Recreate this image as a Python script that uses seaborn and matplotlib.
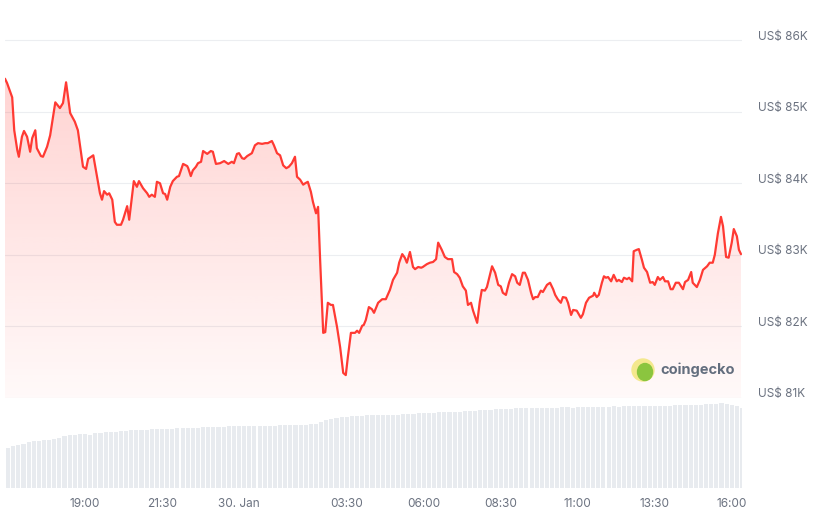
import numpy as np
import pandas as pd
import matplotlib
matplotlib.use("Agg")
import matplotlib.pyplot as plt
from matplotlib.colors import to_rgb
from matplotlib.patches import Ellipse
from matplotlib.transforms import ScaledTranslation
import seaborn as sns

# price samples, time in minutes after 29 Jan 16:00
minutes = [
    24, 28, 38, 42, 48, 51, 57, 61, 67, 73,
    77, 83, 86, 94, 98, 106, 112, 122, 131, 137,
    143, 151, 160, 166, 176, 182, 186, 196, 209, 213,
    217, 223, 227, 233, 238, 242, 250, 254, 262, 266,
    275, 281, 285, 293, 301, 305, 310, 316, 320, 326,
    332, 336, 340, 346, 351, 359, 363, 371, 379, 381,
    386, 390, 396, 400, 406, 410, 418, 425, 429, 435,
    443, 451, 459, 466, 470, 476, 480, 486, 490, 496,
    505, 511, 517, 525, 531, 536, 544, 548, 554, 560,
    566, 572, 577, 583, 589, 593, 599, 605, 609, 614,
    620, 624, 630, 634, 638, 644, 648, 653, 659, 663,
    671, 677, 683, 688, 692, 698, 706, 710, 714, 720,
    723, 727, 733, 739, 743, 751, 759, 766, 774, 780,
    788, 792, 798, 803, 807, 813, 819, 823, 829, 835,
    838, 846, 852, 858, 864, 868, 875, 881, 887, 895,
    899, 905, 910, 916, 922, 926, 932, 936, 944, 949,
    953, 959, 963, 973, 979, 985, 990, 994, 1000, 1006,
    1012, 1018, 1022, 1027, 1033, 1037, 1043, 1049, 1053, 1057,
    1062, 1068, 1072, 1080, 1086, 1092, 1096, 1101, 1107, 1111,
    1117, 1121, 1127, 1131, 1138, 1146, 1150, 1156, 1162, 1170,
    1172, 1177, 1181, 1187, 1191, 1195, 1199, 1205, 1210, 1216,
    1220, 1226, 1230, 1236, 1240, 1246, 1249, 1255, 1259, 1265,
    1269, 1275, 1281, 1286, 1290, 1296, 1300, 1306, 1310, 1316,
    1321, 1325, 1331, 1337, 1345, 1349, 1355, 1361, 1364, 1372,
    1378, 1384, 1392, 1397, 1403, 1407, 1413, 1419, 1423, 1429,
    1434, 1440, 1444, 1450, 1454, 1458,
]
price_usd = [
    85460, 85400, 85200, 84740, 84460, 84370, 84650, 84730, 84650, 84440,
    84630, 84740, 84490, 84380, 84370, 84510, 84670, 85130, 85050, 85120,
    85410, 84980, 84860, 84740, 84230, 84200, 84340, 84390, 83860, 83770,
    83890, 83840, 83860, 83770, 83460, 83420, 83420, 83490, 83680, 83490,
    84030, 83950, 84030, 83930, 83860, 83810, 83840, 83810, 84020, 84000,
    83860, 83850, 83770, 83950, 84030, 84090, 84100, 84270, 84240, 84210,
    84100, 84180, 84230, 84280, 84300, 84450, 84410, 84450, 84440, 84270,
    84280, 84310, 84270, 84300, 84280, 84410, 84420, 84350, 84340, 84380,
    84420, 84530, 84560, 84550, 84560, 84560, 84590, 84530, 84420, 84390,
    84250, 84210, 84230, 84280, 84370, 84090, 84050, 83980, 84000, 84020,
    83880, 83740, 83580, 83670, 82930, 81910, 81920, 82330, 82300, 82300,
    81990, 81710, 81350, 81320, 81570, 81910, 81910, 81940, 81910, 82010,
    82020, 82090, 82270, 82240, 82190, 82330, 82380, 82380, 82510, 82650,
    82750, 82890, 83010, 82960, 82890, 83040, 82830, 82800, 82830, 82820,
    82830, 82870, 82890, 82900, 82940, 83170, 83070, 82970, 82940, 82940,
    82760, 82730, 82680, 82560, 82500, 82300, 82330, 82220, 82050, 82340,
    82510, 82500, 82550, 82840, 82750, 82580, 82560, 82470, 82440, 82610,
    82730, 82700, 82610, 82580, 82750, 82750, 82650, 82470, 82380, 82410,
    82410, 82500, 82480, 82580, 82610, 82520, 82440, 82380, 82330, 82410,
    82400, 82330, 82160, 82230, 82220, 82120, 82170, 82330, 82400, 82430,
    82470, 82410, 82440, 82610, 82700, 82680, 82690, 82630, 82720, 82630,
    82650, 82620, 82680, 82660, 82680, 82630, 83050, 83070, 83080, 82930,
    82820, 82760, 82610, 82620, 82580, 82690, 82650, 82690, 82630, 82630,
    82520, 82520, 82610, 82610, 82520, 82620, 82650, 82760, 82610, 82550,
    82650, 82790, 82840, 82890, 82890, 83000, 83300, 83530, 83400, 82970,
    82960, 83170, 83360, 83260, 83070, 83010,
]

# volume bars every 10 minutes (billion USD)
vol_minutes = np.arange(20, 1461, 10)
volume_bn = [
    19.5, 20.2, 21.0, 21.7, 22.2, 23.0, 23.5, 23.7, 24.0, 24.2,
    24.5, 25.2, 26.0, 26.5, 26.5, 26.8, 27.0, 26.5, 27.5, 27.7,
    28.0, 28.0, 28.2, 28.5, 28.7, 29.0, 29.0, 29.2, 29.2, 29.5,
    29.5, 29.5, 29.7, 29.7, 30.0, 30.0, 30.0, 30.2, 30.2, 30.5,
    30.5, 30.5, 30.7, 30.7, 31.0, 31.0, 31.0, 31.0, 31.0, 31.0,
    31.0, 31.2, 31.2, 31.2, 31.3, 31.5, 31.5, 31.5, 31.7, 31.7,
    32.0, 32.0, 33.0, 34.0, 34.5, 35.0, 35.5, 35.7, 36.0, 36.0,
    36.2, 36.5, 36.5, 36.5, 36.5, 36.5, 36.5, 36.7, 37.0, 37.0,
    37.2, 37.5, 37.5, 37.7, 37.7, 38.0, 38.0, 38.0, 38.2, 38.2,
    38.5, 38.5, 38.5, 39.0, 39.2, 39.2, 39.5, 39.5, 39.7, 39.7,
    40.0, 40.0, 40.0, 40.0, 40.0, 40.2, 40.0, 40.2, 40.2, 40.5,
    40.5, 40.2, 40.5, 40.5, 40.5, 40.7, 40.7, 40.7, 40.7, 41.0,
    40.7, 41.0, 41.0, 41.0, 41.0, 41.0, 41.2, 41.0, 41.2, 41.2,
    41.2, 41.5, 41.5, 41.5, 41.5, 41.7, 41.7, 42.0, 42.0, 42.2,
    42.5, 42.2, 41.5, 41.0, 40.0,
]

tick_minutes = [180, 330, 480, 690, 840, 990, 1140, 1290, 1440]
tick_labels = ["19:00", "21:30", "30. Jan", "03:30", "06:00", "08:30", "11:00", "13:30", "16:00"]
price_ticks = [81000, 82000, 83000, 84000, 85000, 86000]
price_labels = ["US$ 81K", "US$ 82K", "US$ 83K", "US$ 84K", "US$ 85K", "US$ 86K"]

sns.set_theme(style="white")
plt.rcParams["font.family"] = ["Inter", "DejaVu Sans"]

RED = "#ff3a33"
TEXT = "#6b7280"
XMIN, XMAX = 24, 1460
YMIN, YMAX = 81000, 86420

fig = plt.figure(figsize=(8.21, 5.19), dpi=100, facecolor="white")
ax = fig.add_axes([5 / 821, 1 - 398 / 519, 737 / 821, 388 / 519])
axv = fig.add_axes([5 / 821, 1 - 488 / 519, 737 / 821, 90 / 519])

df = pd.DataFrame({"t": minutes, "price": price_usd})
sns.lineplot(data=df, x="t", y="price", ax=ax, color=RED, lw=1.6, zorder=4)

# gradient fill under the line
poly = ax.fill_between(df["t"], df["price"], YMIN, color="none", lw=0)
grad = np.zeros((256, 1, 4))
grad[..., :3] = to_rgb(RED)
grad[:, 0, 3] = np.linspace(0.03, 0.26, 256)
im = ax.imshow(grad, extent=[XMIN, XMAX, YMIN, YMAX], origin="lower",
               aspect="auto", zorder=2, interpolation="bilinear")
im.set_clip_path(poly.get_paths()[0], transform=ax.transData)

ax.set_xlim(XMIN, XMAX)
ax.set_ylim(YMIN, YMAX)
ax.set_yticks(price_ticks)
ax.set_yticklabels(price_labels)
ax.yaxis.tick_right()
ax.grid(axis="y", color="#eceef1", lw=0.8)
ax.grid(axis="x", visible=False)
ax.set_axisbelow(True)
ax.tick_params(axis="y", length=0, pad=11.5, labelsize=8.5, labelcolor=TEXT)
ax.tick_params(axis="x", bottom=False, labelbottom=False)
for lab in ax.get_yticklabels():
    lab.set_transform(lab.get_transform() + ScaledTranslation(0, 0.05, fig.dpi_scale_trans))
ax.set_xlabel("")
ax.set_ylabel("")
for s in ax.spines.values():
    s.set_visible(False)

# volume bars
axv.bar(vol_minutes, volume_bn, width=8, color="#e8ebef", lw=0)
axv.set_xlim(XMIN, XMAX)
axv.set_ylim(0, 45)
axv.set_yticks([])
axv.set_xticks(tick_minutes)
axv.set_xticklabels(tick_labels)
axv.tick_params(axis="x", length=4, width=0.8, color="#e3e6ea", pad=3,
                labelsize=8.5, labelcolor=TEXT)
for s in axv.spines.values():
    s.set_visible(False)

# watermark
fig.add_artist(Ellipse((643 / 821, 1 - 370 / 519), 22 / 821, 22 / 519,
                       transform=fig.transFigure, color="#f4e88e", zorder=5))
fig.add_artist(Ellipse((645 / 821, 1 - 372 / 519), 15 / 821, 17 / 519,
                       transform=fig.transFigure, color="#8bc53f", zorder=6))
fig.text(660 / 821, 1 - 370 / 519, "coingecko", fontsize=10.5, fontweight="bold",
         color="#636e7e", va="center", ha="left")

fig.savefig("out.png", dpi=100, facecolor="white")
